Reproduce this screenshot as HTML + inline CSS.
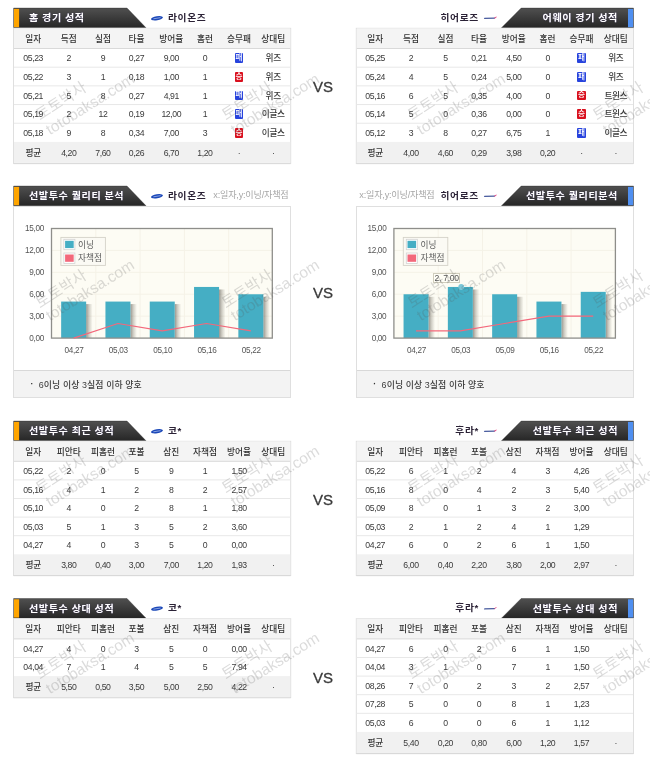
<!DOCTYPE html>
<html lang="ko"><head><meta charset="utf-8"><title>경기 분석</title>
<style>
html,body{margin:0;padding:0;background:#fff;}
body{width:650px;height:779px;position:relative;overflow:hidden;font-family:"Liberation Sans","Noto Sans CJK KR","Noto Sans CJK SC","NanumGothic",sans-serif;}
.b{position:absolute;display:block}
span{position:absolute;white-space:nowrap;line-height:1;}
.t{font-size:8.7px;color:#3a3a3a;letter-spacing:-0.4px;font-weight:500}
.th{color:#333;letter-spacing:0}
.ttl{font-weight:bold;font-size:9.5px;color:#fff;text-shadow:0 0 1px rgba(80,60,140,.7);word-spacing:-0.2px;letter-spacing:0.57px}
.team{font-weight:bold;font-size:8.7px;color:#2b2236;letter-spacing:0.6px}
.xy{font-size:9.1px;color:#a6a6a6;letter-spacing:-0.2px}
.ic{font-size:7.6px;color:#fff;font-weight:500}
.note{font-size:8.9px;color:#3c3c3c;letter-spacing:0.1px;font-weight:500}
.lg{font-size:8.7px;color:#5a5a5a}
.ax{font-size:8.2px;color:#555;letter-spacing:-0.3px}
.tip{font-size:8.6px;color:#555;letter-spacing:-0.3px}
.vs{font-size:15px;color:#3a3a3a;font-family:"Liberation Sans",sans-serif;-webkit-text-stroke:0.3px #3a3a3a}
.wm{color:rgba(90,90,90,.215);z-index:5}
.wk{font-size:15.4px;font-weight:400}
.we{font-size:15.5px}
</style></head><body>

<svg class="b" style="left:0px;top:7px" width="325" height="23" viewBox="0 7 325 23"><defs><linearGradient id="gL8" x1="0" y1="0" x2="0" y2="1"><stop offset="0" stop-color="#505050"/><stop offset="1" stop-color="#262626"/></linearGradient></defs><path d="M13.6 8.1 L127 8.1 L146 27.799999999999997 L13.6 27.799999999999997 Z" fill="url(#gL8)" stroke="#2e2e2e" stroke-width="0.4"/><rect x="14" y="8.9" width="5.1" height="18.30" fill="#ffa500"/></svg>
<span class="ttl" style="left:28.90px;top:18.20px;transform:translate(0,-50%) scaleX(1.06);transform-origin:0 50%;">홈 경기 성적</span>
<svg class="b" style="left:148px;top:12px" width="18" height="13" viewBox="148 12 18 13"><g transform="translate(157.00 18.25)"><ellipse cx="0" cy="0" rx="6.0" ry="1.95" transform="rotate(-9)" fill="#1a47b8"/><path d="M-3.6 0.55 L3.6 -0.6" stroke="#b9c8f0" stroke-width="0.7" fill="none"/></g></svg>
<span class="team" style="left:168.30px;top:17.85px;transform:translate(0,-50%) scaleX(1.12);transform-origin:0 50%;">라이온즈</span>
<svg class="b" style="left:12px;top:26px" width="281" height="140" viewBox="12 26 281 140"><rect x="13.50" y="28.30" width="277.20" height="135.10" fill="#fff" stroke="#dfdfdf" stroke-width="1"/><rect x="14.00" y="28.40" width="276.20" height="20.10" fill="#f4f4f4"/><rect x="14.00" y="141.90" width="276.20" height="21.00" fill="#f1f1f1"/><rect x="14.00" y="48.00" width="276.20" height="1" fill="#d9d9d9"/><rect x="14.00" y="66.68" width="276.20" height="1" fill="#e8e8e8"/><rect x="14.00" y="85.36" width="276.20" height="1" fill="#e8e8e8"/><rect x="14.00" y="104.04" width="276.20" height="1" fill="#e8e8e8"/><rect x="14.00" y="122.72" width="276.20" height="1" fill="#e8e8e8"/><rect x="13.50" y="163.40" width="277.20" height="1" fill="#000" fill-opacity="0.05"/></svg>
<span class="t th" style="left:33.20px;top:38.60px;transform:translate(-50%,-50%);">일자</span>
<span class="t th" style="left:68.80px;top:38.60px;transform:translate(-50%,-50%);">득점</span>
<span class="t th" style="left:102.90px;top:38.60px;transform:translate(-50%,-50%);">실점</span>
<span class="t th" style="left:136.50px;top:38.60px;transform:translate(-50%,-50%);">타율</span>
<span class="t th" style="left:171.30px;top:38.60px;transform:translate(-50%,-50%);">방어율</span>
<span class="t th" style="left:204.90px;top:38.60px;transform:translate(-50%,-50%);">홈런</span>
<span class="t th" style="left:239.10px;top:38.60px;transform:translate(-50%,-50%);">승무패</span>
<span class="t th" style="left:273.20px;top:38.60px;transform:translate(-50%,-50%);">상대팀</span>
<span class="t" style="left:33.20px;top:58.24px;transform:translate(-50%,-50%);">05,23</span>
<span class="t" style="left:68.80px;top:58.24px;transform:translate(-50%,-50%);">2</span>
<span class="t" style="left:102.90px;top:58.24px;transform:translate(-50%,-50%);">9</span>
<span class="t" style="left:136.50px;top:58.24px;transform:translate(-50%,-50%);">0,27</span>
<span class="t" style="left:171.30px;top:58.24px;transform:translate(-50%,-50%);">9,00</span>
<span class="t" style="left:204.90px;top:58.24px;transform:translate(-50%,-50%);">0</span>
<div class="b" style="left:234.90px;top:53.24px;width:8.40px;height:9.60px;background:#2743dd;border-radius:1px"></div>
<span class="ic" style="left:239.10px;top:58.04px;transform:translate(-50%,-50%);">패</span>
<span class="t" style="left:273.20px;top:58.24px;transform:translate(-50%,-50%);">위즈</span>
<span class="t" style="left:33.20px;top:76.92px;transform:translate(-50%,-50%);">05,22</span>
<span class="t" style="left:68.80px;top:76.92px;transform:translate(-50%,-50%);">3</span>
<span class="t" style="left:102.90px;top:76.92px;transform:translate(-50%,-50%);">1</span>
<span class="t" style="left:136.50px;top:76.92px;transform:translate(-50%,-50%);">0,18</span>
<span class="t" style="left:171.30px;top:76.92px;transform:translate(-50%,-50%);">1,00</span>
<span class="t" style="left:204.90px;top:76.92px;transform:translate(-50%,-50%);">1</span>
<div class="b" style="left:234.90px;top:71.92px;width:8.40px;height:9.60px;background:#d9101e;border-radius:1px"></div>
<span class="ic" style="left:239.10px;top:76.72px;transform:translate(-50%,-50%);">승</span>
<span class="t" style="left:273.20px;top:76.92px;transform:translate(-50%,-50%);">위즈</span>
<span class="t" style="left:33.20px;top:95.60px;transform:translate(-50%,-50%);">05,21</span>
<span class="t" style="left:68.80px;top:95.60px;transform:translate(-50%,-50%);">5</span>
<span class="t" style="left:102.90px;top:95.60px;transform:translate(-50%,-50%);">8</span>
<span class="t" style="left:136.50px;top:95.60px;transform:translate(-50%,-50%);">0,27</span>
<span class="t" style="left:171.30px;top:95.60px;transform:translate(-50%,-50%);">4,91</span>
<span class="t" style="left:204.90px;top:95.60px;transform:translate(-50%,-50%);">1</span>
<div class="b" style="left:234.90px;top:90.60px;width:8.40px;height:9.60px;background:#2743dd;border-radius:1px"></div>
<span class="ic" style="left:239.10px;top:95.40px;transform:translate(-50%,-50%);">패</span>
<span class="t" style="left:273.20px;top:95.60px;transform:translate(-50%,-50%);">위즈</span>
<span class="t" style="left:33.20px;top:114.28px;transform:translate(-50%,-50%);">05,19</span>
<span class="t" style="left:68.80px;top:114.28px;transform:translate(-50%,-50%);">2</span>
<span class="t" style="left:102.90px;top:114.28px;transform:translate(-50%,-50%);">12</span>
<span class="t" style="left:136.50px;top:114.28px;transform:translate(-50%,-50%);">0,19</span>
<span class="t" style="left:171.30px;top:114.28px;transform:translate(-50%,-50%);">12,00</span>
<span class="t" style="left:204.90px;top:114.28px;transform:translate(-50%,-50%);">1</span>
<div class="b" style="left:234.90px;top:109.28px;width:8.40px;height:9.60px;background:#2743dd;border-radius:1px"></div>
<span class="ic" style="left:239.10px;top:114.08px;transform:translate(-50%,-50%);">패</span>
<span class="t" style="left:273.20px;top:114.28px;transform:translate(-50%,-50%);">이글스</span>
<span class="t" style="left:33.20px;top:132.96px;transform:translate(-50%,-50%);">05,18</span>
<span class="t" style="left:68.80px;top:132.96px;transform:translate(-50%,-50%);">9</span>
<span class="t" style="left:102.90px;top:132.96px;transform:translate(-50%,-50%);">8</span>
<span class="t" style="left:136.50px;top:132.96px;transform:translate(-50%,-50%);">0,34</span>
<span class="t" style="left:171.30px;top:132.96px;transform:translate(-50%,-50%);">7,00</span>
<span class="t" style="left:204.90px;top:132.96px;transform:translate(-50%,-50%);">3</span>
<div class="b" style="left:234.90px;top:127.96px;width:8.40px;height:9.60px;background:#d9101e;border-radius:1px"></div>
<span class="ic" style="left:239.10px;top:132.76px;transform:translate(-50%,-50%);">승</span>
<span class="t" style="left:273.20px;top:132.96px;transform:translate(-50%,-50%);">이글스</span>
<span class="t" style="left:33.20px;top:153.15px;transform:translate(-50%,-50%);">평균</span>
<span class="t" style="left:68.80px;top:153.15px;transform:translate(-50%,-50%);">4,20</span>
<span class="t" style="left:102.90px;top:153.15px;transform:translate(-50%,-50%);">7,60</span>
<span class="t" style="left:136.50px;top:153.15px;transform:translate(-50%,-50%);">0,26</span>
<span class="t" style="left:171.30px;top:153.15px;transform:translate(-50%,-50%);">6,70</span>
<span class="t" style="left:204.90px;top:153.15px;transform:translate(-50%,-50%);">1,20</span>
<span class="t" style="left:239.10px;top:153.15px;transform:translate(-50%,-50%);">·</span>
<span class="t" style="left:273.20px;top:153.15px;transform:translate(-50%,-50%);">·</span>
<svg class="b" style="left:325px;top:7px" width="325" height="23" viewBox="325 7 325 23"><defs><linearGradient id="gR8" x1="0" y1="0" x2="0" y2="1"><stop offset="0" stop-color="#505050"/><stop offset="1" stop-color="#262626"/></linearGradient></defs><path d="M521.2 8.1 L633.5 8.1 L633.5 27.799999999999997 L501.5 27.799999999999997 Z" fill="url(#gR8)" stroke="#2e2e2e" stroke-width="0.4"/><rect x="628" y="8.9" width="5.1" height="18.30" fill="#4f8ff0"/></svg>
<span class="ttl" style="left:618.30px;top:18.20px;transform:translate(-100%,-50%) scaleX(1.06);transform-origin:100% 50%;">어웨이 경기 성적</span>
<svg class="b" style="left:481px;top:12px" width="19" height="13" viewBox="481 12 19 13"><g transform="translate(490.50 18.35)"><path d="M-6.6 0.75 L4.2 0.5 L4.7 -0.75 L-6.1 -0.5 Z" fill="#44589c"/><path d="M4.0 0.6 L6.6 -1.7 L5.4 -1.5 L3.9 -0.6 Z" fill="#e8457f"/></g></svg>
<span class="team" style="left:479.00px;top:17.85px;transform:translate(-100%,-50%) scaleX(1.12);transform-origin:100% 50%;">히어로즈</span>
<svg class="b" style="left:354px;top:26px" width="281" height="140" viewBox="354 26 281 140"><rect x="356.30" y="28.30" width="277.20" height="135.10" fill="#fff" stroke="#dfdfdf" stroke-width="1"/><rect x="356.80" y="28.40" width="276.20" height="20.10" fill="#f4f4f4"/><rect x="356.80" y="141.90" width="276.20" height="21.00" fill="#f1f1f1"/><rect x="356.80" y="48.00" width="276.20" height="1" fill="#d9d9d9"/><rect x="356.80" y="66.68" width="276.20" height="1" fill="#e8e8e8"/><rect x="356.80" y="85.36" width="276.20" height="1" fill="#e8e8e8"/><rect x="356.80" y="104.04" width="276.20" height="1" fill="#e8e8e8"/><rect x="356.80" y="122.72" width="276.20" height="1" fill="#e8e8e8"/><rect x="356.30" y="163.40" width="277.20" height="1" fill="#000" fill-opacity="0.05"/></svg>
<span class="t th" style="left:375.20px;top:38.60px;transform:translate(-50%,-50%);">일자</span>
<span class="t th" style="left:411.00px;top:38.60px;transform:translate(-50%,-50%);">득점</span>
<span class="t th" style="left:445.40px;top:38.60px;transform:translate(-50%,-50%);">실점</span>
<span class="t th" style="left:479.00px;top:38.60px;transform:translate(-50%,-50%);">타율</span>
<span class="t th" style="left:513.80px;top:38.60px;transform:translate(-50%,-50%);">방어율</span>
<span class="t th" style="left:547.60px;top:38.60px;transform:translate(-50%,-50%);">홈런</span>
<span class="t th" style="left:581.50px;top:38.60px;transform:translate(-50%,-50%);">승무패</span>
<span class="t th" style="left:615.80px;top:38.60px;transform:translate(-50%,-50%);">상대팀</span>
<span class="t" style="left:375.20px;top:58.24px;transform:translate(-50%,-50%);">05,25</span>
<span class="t" style="left:411.00px;top:58.24px;transform:translate(-50%,-50%);">2</span>
<span class="t" style="left:445.40px;top:58.24px;transform:translate(-50%,-50%);">5</span>
<span class="t" style="left:479.00px;top:58.24px;transform:translate(-50%,-50%);">0,21</span>
<span class="t" style="left:513.80px;top:58.24px;transform:translate(-50%,-50%);">4,50</span>
<span class="t" style="left:547.60px;top:58.24px;transform:translate(-50%,-50%);">0</span>
<div class="b" style="left:577.30px;top:53.24px;width:8.40px;height:9.60px;background:#2743dd;border-radius:1px"></div>
<span class="ic" style="left:581.50px;top:58.04px;transform:translate(-50%,-50%);">패</span>
<span class="t" style="left:615.80px;top:58.24px;transform:translate(-50%,-50%);">위즈</span>
<span class="t" style="left:375.20px;top:76.92px;transform:translate(-50%,-50%);">05,24</span>
<span class="t" style="left:411.00px;top:76.92px;transform:translate(-50%,-50%);">4</span>
<span class="t" style="left:445.40px;top:76.92px;transform:translate(-50%,-50%);">5</span>
<span class="t" style="left:479.00px;top:76.92px;transform:translate(-50%,-50%);">0,24</span>
<span class="t" style="left:513.80px;top:76.92px;transform:translate(-50%,-50%);">5,00</span>
<span class="t" style="left:547.60px;top:76.92px;transform:translate(-50%,-50%);">0</span>
<div class="b" style="left:577.30px;top:71.92px;width:8.40px;height:9.60px;background:#2743dd;border-radius:1px"></div>
<span class="ic" style="left:581.50px;top:76.72px;transform:translate(-50%,-50%);">패</span>
<span class="t" style="left:615.80px;top:76.92px;transform:translate(-50%,-50%);">위즈</span>
<span class="t" style="left:375.20px;top:95.60px;transform:translate(-50%,-50%);">05,16</span>
<span class="t" style="left:411.00px;top:95.60px;transform:translate(-50%,-50%);">6</span>
<span class="t" style="left:445.40px;top:95.60px;transform:translate(-50%,-50%);">5</span>
<span class="t" style="left:479.00px;top:95.60px;transform:translate(-50%,-50%);">0,35</span>
<span class="t" style="left:513.80px;top:95.60px;transform:translate(-50%,-50%);">4,00</span>
<span class="t" style="left:547.60px;top:95.60px;transform:translate(-50%,-50%);">0</span>
<div class="b" style="left:577.30px;top:90.60px;width:8.40px;height:9.60px;background:#d9101e;border-radius:1px"></div>
<span class="ic" style="left:581.50px;top:95.40px;transform:translate(-50%,-50%);">승</span>
<span class="t" style="left:615.80px;top:95.60px;transform:translate(-50%,-50%);">트윈스</span>
<span class="t" style="left:375.20px;top:114.28px;transform:translate(-50%,-50%);">05,14</span>
<span class="t" style="left:411.00px;top:114.28px;transform:translate(-50%,-50%);">5</span>
<span class="t" style="left:445.40px;top:114.28px;transform:translate(-50%,-50%);">0</span>
<span class="t" style="left:479.00px;top:114.28px;transform:translate(-50%,-50%);">0,36</span>
<span class="t" style="left:513.80px;top:114.28px;transform:translate(-50%,-50%);">0,00</span>
<span class="t" style="left:547.60px;top:114.28px;transform:translate(-50%,-50%);">0</span>
<div class="b" style="left:577.30px;top:109.28px;width:8.40px;height:9.60px;background:#d9101e;border-radius:1px"></div>
<span class="ic" style="left:581.50px;top:114.08px;transform:translate(-50%,-50%);">승</span>
<span class="t" style="left:615.80px;top:114.28px;transform:translate(-50%,-50%);">트윈스</span>
<span class="t" style="left:375.20px;top:132.96px;transform:translate(-50%,-50%);">05,12</span>
<span class="t" style="left:411.00px;top:132.96px;transform:translate(-50%,-50%);">3</span>
<span class="t" style="left:445.40px;top:132.96px;transform:translate(-50%,-50%);">8</span>
<span class="t" style="left:479.00px;top:132.96px;transform:translate(-50%,-50%);">0,27</span>
<span class="t" style="left:513.80px;top:132.96px;transform:translate(-50%,-50%);">6,75</span>
<span class="t" style="left:547.60px;top:132.96px;transform:translate(-50%,-50%);">1</span>
<div class="b" style="left:577.30px;top:127.96px;width:8.40px;height:9.60px;background:#2743dd;border-radius:1px"></div>
<span class="ic" style="left:581.50px;top:132.76px;transform:translate(-50%,-50%);">패</span>
<span class="t" style="left:615.80px;top:132.96px;transform:translate(-50%,-50%);">이글스</span>
<span class="t" style="left:375.20px;top:153.15px;transform:translate(-50%,-50%);">평균</span>
<span class="t" style="left:411.00px;top:153.15px;transform:translate(-50%,-50%);">4,00</span>
<span class="t" style="left:445.40px;top:153.15px;transform:translate(-50%,-50%);">4,60</span>
<span class="t" style="left:479.00px;top:153.15px;transform:translate(-50%,-50%);">0,29</span>
<span class="t" style="left:513.80px;top:153.15px;transform:translate(-50%,-50%);">3,98</span>
<span class="t" style="left:547.60px;top:153.15px;transform:translate(-50%,-50%);">0,20</span>
<span class="t" style="left:581.50px;top:153.15px;transform:translate(-50%,-50%);">·</span>
<span class="t" style="left:615.80px;top:153.15px;transform:translate(-50%,-50%);">·</span>
<svg class="b" style="left:0px;top:185px" width="325" height="23" viewBox="0 185 325 23"><defs><linearGradient id="gL186" x1="0" y1="0" x2="0" y2="1"><stop offset="0" stop-color="#505050"/><stop offset="1" stop-color="#262626"/></linearGradient></defs><path d="M13.6 186.1 L127 186.1 L146 205.79999999999998 L13.6 205.79999999999998 Z" fill="url(#gL186)" stroke="#2e2e2e" stroke-width="0.4"/><rect x="14" y="186.9" width="5.1" height="18.30" fill="#ffa500"/></svg>
<span class="ttl" style="left:28.90px;top:196.20px;transform:translate(0,-50%) scaleX(1.06);transform-origin:0 50%;">선발투수 퀄리티 분석</span>
<svg class="b" style="left:148px;top:190px" width="18" height="13" viewBox="148 190 18 13"><g transform="translate(157.00 196.25)"><ellipse cx="0" cy="0" rx="6.0" ry="1.95" transform="rotate(-9)" fill="#1a47b8"/><path d="M-3.6 0.55 L3.6 -0.6" stroke="#b9c8f0" stroke-width="0.7" fill="none"/></g></svg>
<span class="team" style="left:168.30px;top:195.85px;transform:translate(0,-50%) scaleX(1.12);transform-origin:0 50%;">라이온즈</span>
<span class="xy" style="left:213.30px;top:196.05px;transform:translate(0,-50%);">x:일자,y:이닝/자책점</span>
<div class="b" style="left:13.00px;top:205.80px;width:278.20px;height:192.60px;border:1px solid #dfdfdf;box-sizing:border-box;background:#fff"></div>
<div class="b" style="left:14.00px;top:370.00px;width:276.20px;height:27.40px;background:#f3f3f3;border-top:1px solid #d8d8d8;box-sizing:border-box"></div>
<span class="t" style="left:30.40px;top:384.40px;transform:translate(0,-50%);color:#333;font-weight:bold">·</span>
<span class="note" style="left:38.80px;top:384.70px;transform:translate(0,-50%);">6이닝 이상 3실점 이하 양호</span>
<svg class="b" style="left:14px;top:206px" width="277" height="163" viewBox="14 206 277 163"><defs><linearGradient id="shL" x1="0" y1="0" x2="1" y2="0"><stop offset="0" stop-color="#3c3830" stop-opacity="0.52"/><stop offset="0.45" stop-color="#4a4538" stop-opacity="0.25"/><stop offset="1" stop-color="#5a5548" stop-opacity="0"/></linearGradient></defs><rect x="51.5" y="228.5" width="220.8" height="109.60" fill="#fdfcf4"/><line x1="95.80" y1="228.5" x2="95.80" y2="338.1" stroke="#f5f2e7" stroke-width="1"/><line x1="140.10" y1="228.5" x2="140.10" y2="338.1" stroke="#f5f2e7" stroke-width="1"/><line x1="184.40" y1="228.5" x2="184.40" y2="338.1" stroke="#f5f2e7" stroke-width="1"/><line x1="228.70" y1="228.5" x2="228.70" y2="338.1" stroke="#f5f2e7" stroke-width="1"/><line x1="51.5" y1="250.42" x2="272.3" y2="250.42" stroke="#f5f2e7" stroke-width="1"/><line x1="51.5" y1="272.34" x2="272.3" y2="272.34" stroke="#f5f2e7" stroke-width="1"/><line x1="51.5" y1="294.26" x2="272.3" y2="294.26" stroke="#f5f2e7" stroke-width="1"/><line x1="51.5" y1="316.18" x2="272.3" y2="316.18" stroke="#f5f2e7" stroke-width="1"/><rect x="86.15" y="304.07" width="6.5" height="34.03" fill="url(#shL)"/><rect x="61.15" y="301.57" width="25" height="36.53" fill="#45aec4"/><rect x="130.45" y="304.07" width="6.5" height="34.03" fill="url(#shL)"/><rect x="105.45" y="301.57" width="25" height="36.53" fill="#45aec4"/><rect x="174.75" y="304.07" width="6.5" height="34.03" fill="url(#shL)"/><rect x="149.75" y="301.57" width="25" height="36.53" fill="#45aec4"/><rect x="219.05" y="289.45" width="6.5" height="48.65" fill="url(#shL)"/><rect x="194.05" y="286.95" width="25" height="51.15" fill="#45aec4"/><rect x="263.35" y="296.76" width="6.5" height="41.34" fill="url(#shL)"/><rect x="238.35" y="294.26" width="25" height="43.84" fill="#45aec4"/><rect x="51.5" y="228.5" width="220.8" height="109.60" fill="none" stroke="#8e8e8a" stroke-width="1.3"/><polyline points="73.65,338.10 117.95,323.49 162.25,330.79 206.55,323.49 250.85,330.79" fill="none" stroke="#f3687b" stroke-width="1.2" stroke-linejoin="round"/><rect x="60.90" y="237.4" width="44.5" height="28" fill="#fbfaf4" stroke="#d4d2c8" stroke-width="0.9"/><rect x="63.90" y="239.3" width="11.0" height="10.4" fill="#fff" stroke="#d2d2d2" stroke-width="0.8"/><rect x="65.10" y="240.8" width="8.6" height="7.3" fill="#45aec4"/><rect x="63.90" y="253.0" width="11.0" height="10.4" fill="#fff" stroke="#d2d2d2" stroke-width="0.8"/><rect x="65.10" y="254.5" width="8.6" height="7.3" fill="#f3687b"/></svg>
<span class="lg" style="left:78.10px;top:244.70px;transform:translate(0,-50%);">이닝</span>
<span class="lg" style="left:78.10px;top:258.30px;transform:translate(0,-50%);">자책점</span>
<span class="ax" style="left:44.00px;top:229.30px;transform:translate(-100%,-50%);">15,00</span>
<span class="ax" style="left:44.00px;top:251.22px;transform:translate(-100%,-50%);">12,00</span>
<span class="ax" style="left:44.00px;top:273.14px;transform:translate(-100%,-50%);">9,00</span>
<span class="ax" style="left:44.00px;top:295.06px;transform:translate(-100%,-50%);">6,00</span>
<span class="ax" style="left:44.00px;top:316.98px;transform:translate(-100%,-50%);">3,00</span>
<span class="ax" style="left:44.00px;top:338.90px;transform:translate(-100%,-50%);">0,00</span>
<span class="ax" style="left:74.05px;top:350.80px;transform:translate(-50%,-50%);">04,27</span>
<span class="ax" style="left:118.35px;top:350.80px;transform:translate(-50%,-50%);">05,03</span>
<span class="ax" style="left:162.65px;top:350.80px;transform:translate(-50%,-50%);">05,10</span>
<span class="ax" style="left:206.95px;top:350.80px;transform:translate(-50%,-50%);">05,16</span>
<span class="ax" style="left:251.25px;top:350.80px;transform:translate(-50%,-50%);">05,22</span>
<svg class="b" style="left:325px;top:185px" width="325" height="23" viewBox="325 185 325 23"><defs><linearGradient id="gR186" x1="0" y1="0" x2="0" y2="1"><stop offset="0" stop-color="#505050"/><stop offset="1" stop-color="#262626"/></linearGradient></defs><path d="M521.2 186.1 L633.5 186.1 L633.5 205.79999999999998 L501.5 205.79999999999998 Z" fill="url(#gR186)" stroke="#2e2e2e" stroke-width="0.4"/><rect x="628" y="186.9" width="5.1" height="18.30" fill="#4f8ff0"/></svg>
<span class="ttl" style="left:618.30px;top:196.20px;transform:translate(-100%,-50%) scaleX(1.06);transform-origin:100% 50%;">선발투수 퀄리티분석</span>
<svg class="b" style="left:481px;top:190px" width="19" height="13" viewBox="481 190 19 13"><g transform="translate(490.50 196.35)"><path d="M-6.6 0.75 L4.2 0.5 L4.7 -0.75 L-6.1 -0.5 Z" fill="#44589c"/><path d="M4.0 0.6 L6.6 -1.7 L5.4 -1.5 L3.9 -0.6 Z" fill="#e8457f"/></g></svg>
<span class="team" style="left:479.00px;top:195.85px;transform:translate(-100%,-50%) scaleX(1.12);transform-origin:100% 50%;">히어로즈</span>
<span class="xy" style="left:434.50px;top:196.05px;transform:translate(-100%,-50%);">x:일자,y:이닝/자책점</span>
<div class="b" style="left:355.80px;top:205.80px;width:278.20px;height:192.60px;border:1px solid #dfdfdf;box-sizing:border-box;background:#fff"></div>
<div class="b" style="left:356.80px;top:370.00px;width:276.20px;height:27.40px;background:#f3f3f3;border-top:1px solid #d8d8d8;box-sizing:border-box"></div>
<span class="t" style="left:373.20px;top:384.40px;transform:translate(0,-50%);color:#333;font-weight:bold">·</span>
<span class="note" style="left:381.60px;top:384.70px;transform:translate(0,-50%);">6이닝 이상 3실점 이하 양호</span>
<svg class="b" style="left:356px;top:206px" width="277" height="163" viewBox="356 206 277 163"><defs><linearGradient id="shR" x1="0" y1="0" x2="1" y2="0"><stop offset="0" stop-color="#3c3830" stop-opacity="0.52"/><stop offset="0.45" stop-color="#4a4538" stop-opacity="0.25"/><stop offset="1" stop-color="#5a5548" stop-opacity="0"/></linearGradient></defs><rect x="393.9" y="228.5" width="221.5" height="109.60" fill="#fdfcf4"/><line x1="438.20" y1="228.5" x2="438.20" y2="338.1" stroke="#f5f2e7" stroke-width="1"/><line x1="482.50" y1="228.5" x2="482.50" y2="338.1" stroke="#f5f2e7" stroke-width="1"/><line x1="526.80" y1="228.5" x2="526.80" y2="338.1" stroke="#f5f2e7" stroke-width="1"/><line x1="571.10" y1="228.5" x2="571.10" y2="338.1" stroke="#f5f2e7" stroke-width="1"/><line x1="393.9" y1="250.42" x2="615.4" y2="250.42" stroke="#f5f2e7" stroke-width="1"/><line x1="393.9" y1="272.34" x2="615.4" y2="272.34" stroke="#f5f2e7" stroke-width="1"/><line x1="393.9" y1="294.26" x2="615.4" y2="294.26" stroke="#f5f2e7" stroke-width="1"/><line x1="393.9" y1="316.18" x2="615.4" y2="316.18" stroke="#f5f2e7" stroke-width="1"/><rect x="428.55" y="296.76" width="6.5" height="41.34" fill="url(#shR)"/><rect x="403.55" y="294.26" width="25" height="43.84" fill="#45aec4"/><rect x="472.85" y="289.45" width="6.5" height="48.65" fill="url(#shR)"/><rect x="447.85" y="286.95" width="25" height="51.15" fill="#45aec4"/><rect x="517.15" y="296.76" width="6.5" height="41.34" fill="url(#shR)"/><rect x="492.15" y="294.26" width="25" height="43.84" fill="#45aec4"/><rect x="561.45" y="304.07" width="6.5" height="34.03" fill="url(#shR)"/><rect x="536.45" y="301.57" width="25" height="36.53" fill="#45aec4"/><rect x="605.75" y="294.35" width="6.5" height="43.75" fill="url(#shR)"/><rect x="580.75" y="291.85" width="25" height="46.25" fill="#45aec4"/><rect x="393.9" y="228.5" width="221.5" height="109.60" fill="none" stroke="#8e8e8a" stroke-width="1.3"/><polyline points="416.05,330.79 460.35,330.79 504.65,323.49 548.95,316.18 593.25,316.18" fill="none" stroke="#f3687b" stroke-width="1.2" stroke-linejoin="round"/><rect x="403.30" y="237.4" width="44.5" height="28" fill="#fbfaf4" stroke="#d4d2c8" stroke-width="0.9"/><rect x="406.30" y="239.3" width="11.0" height="10.4" fill="#fff" stroke="#d2d2d2" stroke-width="0.8"/><rect x="407.50" y="240.8" width="8.6" height="7.3" fill="#45aec4"/><rect x="406.30" y="253.0" width="11.0" height="10.4" fill="#fff" stroke="#d2d2d2" stroke-width="0.8"/><rect x="407.50" y="254.5" width="8.6" height="7.3" fill="#f3687b"/><circle cx="461.2" cy="287.0" r="2.9" fill="#7cc7d8"/></svg>
<span class="lg" style="left:420.50px;top:244.70px;transform:translate(0,-50%);">이닝</span>
<span class="lg" style="left:420.50px;top:258.30px;transform:translate(0,-50%);">자책점</span>
<span class="ax" style="left:386.40px;top:229.30px;transform:translate(-100%,-50%);">15,00</span>
<span class="ax" style="left:386.40px;top:251.22px;transform:translate(-100%,-50%);">12,00</span>
<span class="ax" style="left:386.40px;top:273.14px;transform:translate(-100%,-50%);">9,00</span>
<span class="ax" style="left:386.40px;top:295.06px;transform:translate(-100%,-50%);">6,00</span>
<span class="ax" style="left:386.40px;top:316.98px;transform:translate(-100%,-50%);">3,00</span>
<span class="ax" style="left:386.40px;top:338.90px;transform:translate(-100%,-50%);">0,00</span>
<span class="ax" style="left:416.45px;top:350.80px;transform:translate(-50%,-50%);">04,27</span>
<span class="ax" style="left:460.75px;top:350.80px;transform:translate(-50%,-50%);">05,03</span>
<span class="ax" style="left:505.05px;top:350.80px;transform:translate(-50%,-50%);">05,09</span>
<span class="ax" style="left:549.35px;top:350.80px;transform:translate(-50%,-50%);">05,16</span>
<span class="ax" style="left:593.65px;top:350.80px;transform:translate(-50%,-50%);">05,22</span>
<div class="b" style="left:433.00px;top:272.70px;width:27.00px;height:10.00px;background:#fffef6;border:1px solid #d0cdbd;box-sizing:border-box"></div>
<span class="tip" style="left:446.60px;top:278.00px;transform:translate(-50%,-50%);">2, 7,00</span>
<svg class="b" style="left:0px;top:420px" width="325" height="23" viewBox="0 420 325 23"><defs><linearGradient id="gL421" x1="0" y1="0" x2="0" y2="1"><stop offset="0" stop-color="#505050"/><stop offset="1" stop-color="#262626"/></linearGradient></defs><path d="M13.6 421.1 L127 421.1 L146 440.8 L13.6 440.8 Z" fill="url(#gL421)" stroke="#2e2e2e" stroke-width="0.4"/><rect x="14" y="421.90000000000003" width="5.1" height="18.30" fill="#ffa500"/></svg>
<span class="ttl" style="left:28.90px;top:431.20px;transform:translate(0,-50%) scaleX(1.06);transform-origin:0 50%;">선발투수 최근 성적</span>
<svg class="b" style="left:148px;top:425px" width="18" height="13" viewBox="148 425 18 13"><g transform="translate(157.00 431.25)"><ellipse cx="0" cy="0" rx="6.0" ry="1.95" transform="rotate(-9)" fill="#1a47b8"/><path d="M-3.6 0.55 L3.6 -0.6" stroke="#b9c8f0" stroke-width="0.7" fill="none"/></g></svg>
<span class="team" style="left:168.30px;top:430.85px;transform:translate(0,-50%) scaleX(1.12);transform-origin:0 50%;">코*</span>
<svg class="b" style="left:12px;top:439px" width="281" height="139" viewBox="12 439 281 139"><rect x="13.50" y="441.30" width="277.20" height="134.20" fill="#fff" stroke="#dfdfdf" stroke-width="1"/><rect x="14.00" y="441.40" width="276.20" height="19.90" fill="#f4f4f4"/><rect x="14.00" y="554.30" width="276.20" height="20.70" fill="#f1f1f1"/><rect x="14.00" y="460.80" width="276.20" height="1" fill="#d9d9d9"/><rect x="14.00" y="479.40" width="276.20" height="1" fill="#e8e8e8"/><rect x="14.00" y="498.00" width="276.20" height="1" fill="#e8e8e8"/><rect x="14.00" y="516.60" width="276.20" height="1" fill="#e8e8e8"/><rect x="14.00" y="535.20" width="276.20" height="1" fill="#e8e8e8"/><rect x="13.50" y="575.50" width="277.20" height="1" fill="#000" fill-opacity="0.05"/></svg>
<span class="t th" style="left:33.20px;top:451.50px;transform:translate(-50%,-50%);">일자</span>
<span class="t th" style="left:68.80px;top:451.50px;transform:translate(-50%,-50%);">피안타</span>
<span class="t th" style="left:102.90px;top:451.50px;transform:translate(-50%,-50%);">피홈런</span>
<span class="t th" style="left:136.50px;top:451.50px;transform:translate(-50%,-50%);">포볼</span>
<span class="t th" style="left:171.30px;top:451.50px;transform:translate(-50%,-50%);">삼진</span>
<span class="t th" style="left:204.90px;top:451.50px;transform:translate(-50%,-50%);">자책점</span>
<span class="t th" style="left:239.10px;top:451.50px;transform:translate(-50%,-50%);">방어율</span>
<span class="t th" style="left:273.20px;top:451.50px;transform:translate(-50%,-50%);">상대팀</span>
<span class="t" style="left:33.20px;top:471.00px;transform:translate(-50%,-50%);">05,22</span>
<span class="t" style="left:68.80px;top:471.00px;transform:translate(-50%,-50%);">2</span>
<span class="t" style="left:102.90px;top:471.00px;transform:translate(-50%,-50%);">0</span>
<span class="t" style="left:136.50px;top:471.00px;transform:translate(-50%,-50%);">5</span>
<span class="t" style="left:171.30px;top:471.00px;transform:translate(-50%,-50%);">9</span>
<span class="t" style="left:204.90px;top:471.00px;transform:translate(-50%,-50%);">1</span>
<span class="t" style="left:239.10px;top:471.00px;transform:translate(-50%,-50%);">1,50</span>
<span class="t" style="left:33.20px;top:489.60px;transform:translate(-50%,-50%);">05,16</span>
<span class="t" style="left:68.80px;top:489.60px;transform:translate(-50%,-50%);">4</span>
<span class="t" style="left:102.90px;top:489.60px;transform:translate(-50%,-50%);">1</span>
<span class="t" style="left:136.50px;top:489.60px;transform:translate(-50%,-50%);">2</span>
<span class="t" style="left:171.30px;top:489.60px;transform:translate(-50%,-50%);">8</span>
<span class="t" style="left:204.90px;top:489.60px;transform:translate(-50%,-50%);">2</span>
<span class="t" style="left:239.10px;top:489.60px;transform:translate(-50%,-50%);">2,57</span>
<span class="t" style="left:33.20px;top:508.20px;transform:translate(-50%,-50%);">05,10</span>
<span class="t" style="left:68.80px;top:508.20px;transform:translate(-50%,-50%);">4</span>
<span class="t" style="left:102.90px;top:508.20px;transform:translate(-50%,-50%);">0</span>
<span class="t" style="left:136.50px;top:508.20px;transform:translate(-50%,-50%);">2</span>
<span class="t" style="left:171.30px;top:508.20px;transform:translate(-50%,-50%);">8</span>
<span class="t" style="left:204.90px;top:508.20px;transform:translate(-50%,-50%);">1</span>
<span class="t" style="left:239.10px;top:508.20px;transform:translate(-50%,-50%);">1,80</span>
<span class="t" style="left:33.20px;top:526.80px;transform:translate(-50%,-50%);">05,03</span>
<span class="t" style="left:68.80px;top:526.80px;transform:translate(-50%,-50%);">5</span>
<span class="t" style="left:102.90px;top:526.80px;transform:translate(-50%,-50%);">1</span>
<span class="t" style="left:136.50px;top:526.80px;transform:translate(-50%,-50%);">3</span>
<span class="t" style="left:171.30px;top:526.80px;transform:translate(-50%,-50%);">5</span>
<span class="t" style="left:204.90px;top:526.80px;transform:translate(-50%,-50%);">2</span>
<span class="t" style="left:239.10px;top:526.80px;transform:translate(-50%,-50%);">3,60</span>
<span class="t" style="left:33.20px;top:545.40px;transform:translate(-50%,-50%);">04,27</span>
<span class="t" style="left:68.80px;top:545.40px;transform:translate(-50%,-50%);">4</span>
<span class="t" style="left:102.90px;top:545.40px;transform:translate(-50%,-50%);">0</span>
<span class="t" style="left:136.50px;top:545.40px;transform:translate(-50%,-50%);">3</span>
<span class="t" style="left:171.30px;top:545.40px;transform:translate(-50%,-50%);">5</span>
<span class="t" style="left:204.90px;top:545.40px;transform:translate(-50%,-50%);">0</span>
<span class="t" style="left:239.10px;top:545.40px;transform:translate(-50%,-50%);">0,00</span>
<span class="t" style="left:33.20px;top:565.40px;transform:translate(-50%,-50%);">평균</span>
<span class="t" style="left:68.80px;top:565.40px;transform:translate(-50%,-50%);">3,80</span>
<span class="t" style="left:102.90px;top:565.40px;transform:translate(-50%,-50%);">0,40</span>
<span class="t" style="left:136.50px;top:565.40px;transform:translate(-50%,-50%);">3,00</span>
<span class="t" style="left:171.30px;top:565.40px;transform:translate(-50%,-50%);">7,00</span>
<span class="t" style="left:204.90px;top:565.40px;transform:translate(-50%,-50%);">1,20</span>
<span class="t" style="left:239.10px;top:565.40px;transform:translate(-50%,-50%);">1,93</span>
<span class="t" style="left:273.20px;top:565.40px;transform:translate(-50%,-50%);">·</span>
<svg class="b" style="left:325px;top:420px" width="325" height="23" viewBox="325 420 325 23"><defs><linearGradient id="gR421" x1="0" y1="0" x2="0" y2="1"><stop offset="0" stop-color="#505050"/><stop offset="1" stop-color="#262626"/></linearGradient></defs><path d="M521.2 421.1 L633.5 421.1 L633.5 440.8 L501.5 440.8 Z" fill="url(#gR421)" stroke="#2e2e2e" stroke-width="0.4"/><rect x="628" y="421.90000000000003" width="5.1" height="18.30" fill="#4f8ff0"/></svg>
<span class="ttl" style="left:618.30px;top:431.20px;transform:translate(-100%,-50%) scaleX(1.06);transform-origin:100% 50%;">선발투수 최근 성적</span>
<svg class="b" style="left:481px;top:425px" width="19" height="13" viewBox="481 425 19 13"><g transform="translate(490.50 431.35)"><path d="M-6.6 0.75 L4.2 0.5 L4.7 -0.75 L-6.1 -0.5 Z" fill="#44589c"/><path d="M4.0 0.6 L6.6 -1.7 L5.4 -1.5 L3.9 -0.6 Z" fill="#e8457f"/></g></svg>
<span class="team" style="left:479.00px;top:430.85px;transform:translate(-100%,-50%) scaleX(1.12);transform-origin:100% 50%;">후라*</span>
<svg class="b" style="left:354px;top:439px" width="281" height="139" viewBox="354 439 281 139"><rect x="356.30" y="441.30" width="277.20" height="134.20" fill="#fff" stroke="#dfdfdf" stroke-width="1"/><rect x="356.80" y="441.40" width="276.20" height="19.90" fill="#f4f4f4"/><rect x="356.80" y="554.30" width="276.20" height="20.70" fill="#f1f1f1"/><rect x="356.80" y="460.80" width="276.20" height="1" fill="#d9d9d9"/><rect x="356.80" y="479.40" width="276.20" height="1" fill="#e8e8e8"/><rect x="356.80" y="498.00" width="276.20" height="1" fill="#e8e8e8"/><rect x="356.80" y="516.60" width="276.20" height="1" fill="#e8e8e8"/><rect x="356.80" y="535.20" width="276.20" height="1" fill="#e8e8e8"/><rect x="356.30" y="575.50" width="277.20" height="1" fill="#000" fill-opacity="0.05"/></svg>
<span class="t th" style="left:375.20px;top:451.50px;transform:translate(-50%,-50%);">일자</span>
<span class="t th" style="left:411.00px;top:451.50px;transform:translate(-50%,-50%);">피안타</span>
<span class="t th" style="left:445.40px;top:451.50px;transform:translate(-50%,-50%);">피홈런</span>
<span class="t th" style="left:479.00px;top:451.50px;transform:translate(-50%,-50%);">포볼</span>
<span class="t th" style="left:513.80px;top:451.50px;transform:translate(-50%,-50%);">삼진</span>
<span class="t th" style="left:547.60px;top:451.50px;transform:translate(-50%,-50%);">자책점</span>
<span class="t th" style="left:581.50px;top:451.50px;transform:translate(-50%,-50%);">방어율</span>
<span class="t th" style="left:615.80px;top:451.50px;transform:translate(-50%,-50%);">상대팀</span>
<span class="t" style="left:375.20px;top:471.00px;transform:translate(-50%,-50%);">05,22</span>
<span class="t" style="left:411.00px;top:471.00px;transform:translate(-50%,-50%);">6</span>
<span class="t" style="left:445.40px;top:471.00px;transform:translate(-50%,-50%);">1</span>
<span class="t" style="left:479.00px;top:471.00px;transform:translate(-50%,-50%);">2</span>
<span class="t" style="left:513.80px;top:471.00px;transform:translate(-50%,-50%);">4</span>
<span class="t" style="left:547.60px;top:471.00px;transform:translate(-50%,-50%);">3</span>
<span class="t" style="left:581.50px;top:471.00px;transform:translate(-50%,-50%);">4,26</span>
<span class="t" style="left:375.20px;top:489.60px;transform:translate(-50%,-50%);">05,16</span>
<span class="t" style="left:411.00px;top:489.60px;transform:translate(-50%,-50%);">8</span>
<span class="t" style="left:445.40px;top:489.60px;transform:translate(-50%,-50%);">0</span>
<span class="t" style="left:479.00px;top:489.60px;transform:translate(-50%,-50%);">4</span>
<span class="t" style="left:513.80px;top:489.60px;transform:translate(-50%,-50%);">2</span>
<span class="t" style="left:547.60px;top:489.60px;transform:translate(-50%,-50%);">3</span>
<span class="t" style="left:581.50px;top:489.60px;transform:translate(-50%,-50%);">5,40</span>
<span class="t" style="left:375.20px;top:508.20px;transform:translate(-50%,-50%);">05,09</span>
<span class="t" style="left:411.00px;top:508.20px;transform:translate(-50%,-50%);">8</span>
<span class="t" style="left:445.40px;top:508.20px;transform:translate(-50%,-50%);">0</span>
<span class="t" style="left:479.00px;top:508.20px;transform:translate(-50%,-50%);">1</span>
<span class="t" style="left:513.80px;top:508.20px;transform:translate(-50%,-50%);">3</span>
<span class="t" style="left:547.60px;top:508.20px;transform:translate(-50%,-50%);">2</span>
<span class="t" style="left:581.50px;top:508.20px;transform:translate(-50%,-50%);">3,00</span>
<span class="t" style="left:375.20px;top:526.80px;transform:translate(-50%,-50%);">05,03</span>
<span class="t" style="left:411.00px;top:526.80px;transform:translate(-50%,-50%);">2</span>
<span class="t" style="left:445.40px;top:526.80px;transform:translate(-50%,-50%);">1</span>
<span class="t" style="left:479.00px;top:526.80px;transform:translate(-50%,-50%);">2</span>
<span class="t" style="left:513.80px;top:526.80px;transform:translate(-50%,-50%);">4</span>
<span class="t" style="left:547.60px;top:526.80px;transform:translate(-50%,-50%);">1</span>
<span class="t" style="left:581.50px;top:526.80px;transform:translate(-50%,-50%);">1,29</span>
<span class="t" style="left:375.20px;top:545.40px;transform:translate(-50%,-50%);">04,27</span>
<span class="t" style="left:411.00px;top:545.40px;transform:translate(-50%,-50%);">6</span>
<span class="t" style="left:445.40px;top:545.40px;transform:translate(-50%,-50%);">0</span>
<span class="t" style="left:479.00px;top:545.40px;transform:translate(-50%,-50%);">2</span>
<span class="t" style="left:513.80px;top:545.40px;transform:translate(-50%,-50%);">6</span>
<span class="t" style="left:547.60px;top:545.40px;transform:translate(-50%,-50%);">1</span>
<span class="t" style="left:581.50px;top:545.40px;transform:translate(-50%,-50%);">1,50</span>
<span class="t" style="left:375.20px;top:565.40px;transform:translate(-50%,-50%);">평균</span>
<span class="t" style="left:411.00px;top:565.40px;transform:translate(-50%,-50%);">6,00</span>
<span class="t" style="left:445.40px;top:565.40px;transform:translate(-50%,-50%);">0,40</span>
<span class="t" style="left:479.00px;top:565.40px;transform:translate(-50%,-50%);">2,20</span>
<span class="t" style="left:513.80px;top:565.40px;transform:translate(-50%,-50%);">3,80</span>
<span class="t" style="left:547.60px;top:565.40px;transform:translate(-50%,-50%);">2,00</span>
<span class="t" style="left:581.50px;top:565.40px;transform:translate(-50%,-50%);">2,97</span>
<span class="t" style="left:615.80px;top:565.40px;transform:translate(-50%,-50%);">·</span>
<svg class="b" style="left:0px;top:597px" width="325" height="23" viewBox="0 597 325 23"><defs><linearGradient id="gL598" x1="0" y1="0" x2="0" y2="1"><stop offset="0" stop-color="#505050"/><stop offset="1" stop-color="#262626"/></linearGradient></defs><path d="M13.6 598.5 L127 598.5 L146 618.2 L13.6 618.2 Z" fill="url(#gL598)" stroke="#2e2e2e" stroke-width="0.4"/><rect x="14" y="599.3" width="5.1" height="18.30" fill="#ffa500"/></svg>
<span class="ttl" style="left:28.90px;top:608.60px;transform:translate(0,-50%) scaleX(1.06);transform-origin:0 50%;">선발투수 상대 성적</span>
<svg class="b" style="left:148px;top:602px" width="18" height="13" viewBox="148 602 18 13"><g transform="translate(157.00 608.65)"><ellipse cx="0" cy="0" rx="6.0" ry="1.95" transform="rotate(-9)" fill="#1a47b8"/><path d="M-3.6 0.55 L3.6 -0.6" stroke="#b9c8f0" stroke-width="0.7" fill="none"/></g></svg>
<span class="team" style="left:168.30px;top:608.25px;transform:translate(0,-50%) scaleX(1.12);transform-origin:0 50%;">코*</span>
<svg class="b" style="left:12px;top:617px" width="281" height="83" viewBox="12 617 281 83"><rect x="13.50" y="618.70" width="277.20" height="78.90" fill="#fff" stroke="#dfdfdf" stroke-width="1"/><rect x="14.00" y="618.80" width="276.20" height="20.10" fill="#f4f4f4"/><rect x="14.00" y="676.10" width="276.20" height="21.00" fill="#f1f1f1"/><rect x="14.00" y="638.40" width="276.20" height="1" fill="#d9d9d9"/><rect x="14.00" y="657.00" width="276.20" height="1" fill="#e8e8e8"/><rect x="13.50" y="697.60" width="277.20" height="1" fill="#000" fill-opacity="0.05"/></svg>
<span class="t th" style="left:33.20px;top:629.00px;transform:translate(-50%,-50%);">일자</span>
<span class="t th" style="left:68.80px;top:629.00px;transform:translate(-50%,-50%);">피안타</span>
<span class="t th" style="left:102.90px;top:629.00px;transform:translate(-50%,-50%);">피홈런</span>
<span class="t th" style="left:136.50px;top:629.00px;transform:translate(-50%,-50%);">포볼</span>
<span class="t th" style="left:171.30px;top:629.00px;transform:translate(-50%,-50%);">삼진</span>
<span class="t th" style="left:204.90px;top:629.00px;transform:translate(-50%,-50%);">자책점</span>
<span class="t th" style="left:239.10px;top:629.00px;transform:translate(-50%,-50%);">방어율</span>
<span class="t th" style="left:273.20px;top:629.00px;transform:translate(-50%,-50%);">상대팀</span>
<span class="t" style="left:33.20px;top:648.60px;transform:translate(-50%,-50%);">04,27</span>
<span class="t" style="left:68.80px;top:648.60px;transform:translate(-50%,-50%);">4</span>
<span class="t" style="left:102.90px;top:648.60px;transform:translate(-50%,-50%);">0</span>
<span class="t" style="left:136.50px;top:648.60px;transform:translate(-50%,-50%);">3</span>
<span class="t" style="left:171.30px;top:648.60px;transform:translate(-50%,-50%);">5</span>
<span class="t" style="left:204.90px;top:648.60px;transform:translate(-50%,-50%);">0</span>
<span class="t" style="left:239.10px;top:648.60px;transform:translate(-50%,-50%);">0,00</span>
<span class="t" style="left:33.20px;top:667.20px;transform:translate(-50%,-50%);">04,04</span>
<span class="t" style="left:68.80px;top:667.20px;transform:translate(-50%,-50%);">7</span>
<span class="t" style="left:102.90px;top:667.20px;transform:translate(-50%,-50%);">1</span>
<span class="t" style="left:136.50px;top:667.20px;transform:translate(-50%,-50%);">4</span>
<span class="t" style="left:171.30px;top:667.20px;transform:translate(-50%,-50%);">5</span>
<span class="t" style="left:204.90px;top:667.20px;transform:translate(-50%,-50%);">5</span>
<span class="t" style="left:239.10px;top:667.20px;transform:translate(-50%,-50%);">7,94</span>
<span class="t" style="left:33.20px;top:687.35px;transform:translate(-50%,-50%);">평균</span>
<span class="t" style="left:68.80px;top:687.35px;transform:translate(-50%,-50%);">5,50</span>
<span class="t" style="left:102.90px;top:687.35px;transform:translate(-50%,-50%);">0,50</span>
<span class="t" style="left:136.50px;top:687.35px;transform:translate(-50%,-50%);">3,50</span>
<span class="t" style="left:171.30px;top:687.35px;transform:translate(-50%,-50%);">5,00</span>
<span class="t" style="left:204.90px;top:687.35px;transform:translate(-50%,-50%);">2,50</span>
<span class="t" style="left:239.10px;top:687.35px;transform:translate(-50%,-50%);">4,22</span>
<span class="t" style="left:273.20px;top:687.35px;transform:translate(-50%,-50%);">·</span>
<svg class="b" style="left:325px;top:597px" width="325" height="23" viewBox="325 597 325 23"><defs><linearGradient id="gR598" x1="0" y1="0" x2="0" y2="1"><stop offset="0" stop-color="#505050"/><stop offset="1" stop-color="#262626"/></linearGradient></defs><path d="M521.2 598.5 L633.5 598.5 L633.5 618.2 L501.5 618.2 Z" fill="url(#gR598)" stroke="#2e2e2e" stroke-width="0.4"/><rect x="628" y="599.3" width="5.1" height="18.30" fill="#4f8ff0"/></svg>
<span class="ttl" style="left:618.30px;top:608.60px;transform:translate(-100%,-50%) scaleX(1.06);transform-origin:100% 50%;">선발투수 상대 성적</span>
<svg class="b" style="left:481px;top:602px" width="19" height="13" viewBox="481 602 19 13"><g transform="translate(490.50 608.75)"><path d="M-6.6 0.75 L4.2 0.5 L4.7 -0.75 L-6.1 -0.5 Z" fill="#44589c"/><path d="M4.0 0.6 L6.6 -1.7 L5.4 -1.5 L3.9 -0.6 Z" fill="#e8457f"/></g></svg>
<span class="team" style="left:479.00px;top:608.25px;transform:translate(-100%,-50%) scaleX(1.12);transform-origin:100% 50%;">후라*</span>
<svg class="b" style="left:354px;top:617px" width="281" height="139" viewBox="354 617 281 139"><rect x="356.30" y="618.70" width="277.20" height="134.80" fill="#fff" stroke="#dfdfdf" stroke-width="1"/><rect x="356.80" y="618.80" width="276.20" height="20.10" fill="#f4f4f4"/><rect x="356.80" y="731.90" width="276.20" height="21.10" fill="#f1f1f1"/><rect x="356.80" y="638.40" width="276.20" height="1" fill="#d9d9d9"/><rect x="356.80" y="657.00" width="276.20" height="1" fill="#e8e8e8"/><rect x="356.80" y="675.60" width="276.20" height="1" fill="#e8e8e8"/><rect x="356.80" y="694.20" width="276.20" height="1" fill="#e8e8e8"/><rect x="356.80" y="712.80" width="276.20" height="1" fill="#e8e8e8"/><rect x="356.30" y="753.50" width="277.20" height="1" fill="#000" fill-opacity="0.05"/></svg>
<span class="t th" style="left:375.20px;top:629.00px;transform:translate(-50%,-50%);">일자</span>
<span class="t th" style="left:411.00px;top:629.00px;transform:translate(-50%,-50%);">피안타</span>
<span class="t th" style="left:445.40px;top:629.00px;transform:translate(-50%,-50%);">피홈런</span>
<span class="t th" style="left:479.00px;top:629.00px;transform:translate(-50%,-50%);">포볼</span>
<span class="t th" style="left:513.80px;top:629.00px;transform:translate(-50%,-50%);">삼진</span>
<span class="t th" style="left:547.60px;top:629.00px;transform:translate(-50%,-50%);">자책점</span>
<span class="t th" style="left:581.50px;top:629.00px;transform:translate(-50%,-50%);">방어율</span>
<span class="t th" style="left:615.80px;top:629.00px;transform:translate(-50%,-50%);">상대팀</span>
<span class="t" style="left:375.20px;top:648.60px;transform:translate(-50%,-50%);">04,27</span>
<span class="t" style="left:411.00px;top:648.60px;transform:translate(-50%,-50%);">6</span>
<span class="t" style="left:445.40px;top:648.60px;transform:translate(-50%,-50%);">0</span>
<span class="t" style="left:479.00px;top:648.60px;transform:translate(-50%,-50%);">2</span>
<span class="t" style="left:513.80px;top:648.60px;transform:translate(-50%,-50%);">6</span>
<span class="t" style="left:547.60px;top:648.60px;transform:translate(-50%,-50%);">1</span>
<span class="t" style="left:581.50px;top:648.60px;transform:translate(-50%,-50%);">1,50</span>
<span class="t" style="left:375.20px;top:667.20px;transform:translate(-50%,-50%);">04,04</span>
<span class="t" style="left:411.00px;top:667.20px;transform:translate(-50%,-50%);">3</span>
<span class="t" style="left:445.40px;top:667.20px;transform:translate(-50%,-50%);">1</span>
<span class="t" style="left:479.00px;top:667.20px;transform:translate(-50%,-50%);">0</span>
<span class="t" style="left:513.80px;top:667.20px;transform:translate(-50%,-50%);">7</span>
<span class="t" style="left:547.60px;top:667.20px;transform:translate(-50%,-50%);">1</span>
<span class="t" style="left:581.50px;top:667.20px;transform:translate(-50%,-50%);">1,50</span>
<span class="t" style="left:375.20px;top:685.80px;transform:translate(-50%,-50%);">08,26</span>
<span class="t" style="left:411.00px;top:685.80px;transform:translate(-50%,-50%);">7</span>
<span class="t" style="left:445.40px;top:685.80px;transform:translate(-50%,-50%);">0</span>
<span class="t" style="left:479.00px;top:685.80px;transform:translate(-50%,-50%);">2</span>
<span class="t" style="left:513.80px;top:685.80px;transform:translate(-50%,-50%);">3</span>
<span class="t" style="left:547.60px;top:685.80px;transform:translate(-50%,-50%);">2</span>
<span class="t" style="left:581.50px;top:685.80px;transform:translate(-50%,-50%);">2,57</span>
<span class="t" style="left:375.20px;top:704.40px;transform:translate(-50%,-50%);">07,28</span>
<span class="t" style="left:411.00px;top:704.40px;transform:translate(-50%,-50%);">5</span>
<span class="t" style="left:445.40px;top:704.40px;transform:translate(-50%,-50%);">0</span>
<span class="t" style="left:479.00px;top:704.40px;transform:translate(-50%,-50%);">0</span>
<span class="t" style="left:513.80px;top:704.40px;transform:translate(-50%,-50%);">8</span>
<span class="t" style="left:547.60px;top:704.40px;transform:translate(-50%,-50%);">1</span>
<span class="t" style="left:581.50px;top:704.40px;transform:translate(-50%,-50%);">1,23</span>
<span class="t" style="left:375.20px;top:723.00px;transform:translate(-50%,-50%);">05,03</span>
<span class="t" style="left:411.00px;top:723.00px;transform:translate(-50%,-50%);">6</span>
<span class="t" style="left:445.40px;top:723.00px;transform:translate(-50%,-50%);">0</span>
<span class="t" style="left:479.00px;top:723.00px;transform:translate(-50%,-50%);">0</span>
<span class="t" style="left:513.80px;top:723.00px;transform:translate(-50%,-50%);">6</span>
<span class="t" style="left:547.60px;top:723.00px;transform:translate(-50%,-50%);">1</span>
<span class="t" style="left:581.50px;top:723.00px;transform:translate(-50%,-50%);">1,12</span>
<span class="t" style="left:375.20px;top:743.20px;transform:translate(-50%,-50%);">평균</span>
<span class="t" style="left:411.00px;top:743.20px;transform:translate(-50%,-50%);">5,40</span>
<span class="t" style="left:445.40px;top:743.20px;transform:translate(-50%,-50%);">0,20</span>
<span class="t" style="left:479.00px;top:743.20px;transform:translate(-50%,-50%);">0,80</span>
<span class="t" style="left:513.80px;top:743.20px;transform:translate(-50%,-50%);">6,00</span>
<span class="t" style="left:547.60px;top:743.20px;transform:translate(-50%,-50%);">1,20</span>
<span class="t" style="left:581.50px;top:743.20px;transform:translate(-50%,-50%);">1,57</span>
<span class="t" style="left:615.80px;top:743.20px;transform:translate(-50%,-50%);">·</span>
<span class="vs" style="left:323.00px;top:86.40px;transform:translate(-50%,-50%);">VS</span>
<span class="vs" style="left:323.00px;top:292.30px;transform:translate(-50%,-50%);">VS</span>
<span class="vs" style="left:323.00px;top:499.10px;transform:translate(-50%,-50%);">VS</span>
<span class="vs" style="left:323.00px;top:676.50px;transform:translate(-50%,-50%);">VS</span>
<span class="wm wk" style="left:61.2px;top:101.0px;transform:translate(-50%,-50%) rotate(-32.5deg)">토토박사</span>
<span class="wm we" style="left:89.5px;top:103.7px;transform:translate(-50%,-50%) rotate(-32deg)">totobaksa.com</span>
<span class="wm wk" style="left:246.9px;top:101.0px;transform:translate(-50%,-50%) rotate(-32.5deg)">토토박사</span>
<span class="wm we" style="left:275.2px;top:103.7px;transform:translate(-50%,-50%) rotate(-32deg)">totobaksa.com</span>
<span class="wm wk" style="left:432.6px;top:101.0px;transform:translate(-50%,-50%) rotate(-32.5deg)">토토박사</span>
<span class="wm we" style="left:460.9px;top:103.7px;transform:translate(-50%,-50%) rotate(-32deg)">totobaksa.com</span>
<span class="wm wk" style="left:618.3px;top:101.0px;transform:translate(-50%,-50%) rotate(-32.5deg)">토토박사</span>
<span class="wm we" style="left:646.6px;top:103.7px;transform:translate(-50%,-50%) rotate(-32deg)">totobaksa.com</span>
<span class="wm wk" style="left:61.2px;top:288.5px;transform:translate(-50%,-50%) rotate(-32.5deg)">토토박사</span>
<span class="wm we" style="left:89.5px;top:290.0px;transform:translate(-50%,-50%) rotate(-32deg)">totobaksa.com</span>
<span class="wm wk" style="left:246.9px;top:288.5px;transform:translate(-50%,-50%) rotate(-32.5deg)">토토박사</span>
<span class="wm we" style="left:275.2px;top:290.0px;transform:translate(-50%,-50%) rotate(-32deg)">totobaksa.com</span>
<span class="wm wk" style="left:432.6px;top:288.5px;transform:translate(-50%,-50%) rotate(-32.5deg)">토토박사</span>
<span class="wm we" style="left:460.9px;top:290.0px;transform:translate(-50%,-50%) rotate(-32deg)">totobaksa.com</span>
<span class="wm wk" style="left:618.3px;top:288.5px;transform:translate(-50%,-50%) rotate(-32.5deg)">토토박사</span>
<span class="wm we" style="left:646.6px;top:290.0px;transform:translate(-50%,-50%) rotate(-32deg)">totobaksa.com</span>
<span class="wm wk" style="left:61.2px;top:473.6px;transform:translate(-50%,-50%) rotate(-32.5deg)">토토박사</span>
<span class="wm we" style="left:89.5px;top:476.3px;transform:translate(-50%,-50%) rotate(-32deg)">totobaksa.com</span>
<span class="wm wk" style="left:246.9px;top:473.6px;transform:translate(-50%,-50%) rotate(-32.5deg)">토토박사</span>
<span class="wm we" style="left:275.2px;top:476.3px;transform:translate(-50%,-50%) rotate(-32deg)">totobaksa.com</span>
<span class="wm wk" style="left:432.6px;top:473.6px;transform:translate(-50%,-50%) rotate(-32.5deg)">토토박사</span>
<span class="wm we" style="left:460.9px;top:476.3px;transform:translate(-50%,-50%) rotate(-32deg)">totobaksa.com</span>
<span class="wm wk" style="left:618.3px;top:473.6px;transform:translate(-50%,-50%) rotate(-32.5deg)">토토박사</span>
<span class="wm we" style="left:646.6px;top:476.3px;transform:translate(-50%,-50%) rotate(-32deg)">totobaksa.com</span>
<span class="wm wk" style="left:61.2px;top:659.9px;transform:translate(-50%,-50%) rotate(-32.5deg)">토토박사</span>
<span class="wm we" style="left:89.5px;top:662.6px;transform:translate(-50%,-50%) rotate(-32deg)">totobaksa.com</span>
<span class="wm wk" style="left:246.9px;top:659.9px;transform:translate(-50%,-50%) rotate(-32.5deg)">토토박사</span>
<span class="wm we" style="left:275.2px;top:662.6px;transform:translate(-50%,-50%) rotate(-32deg)">totobaksa.com</span>
<span class="wm wk" style="left:432.6px;top:659.9px;transform:translate(-50%,-50%) rotate(-32.5deg)">토토박사</span>
<span class="wm we" style="left:460.9px;top:662.6px;transform:translate(-50%,-50%) rotate(-32deg)">totobaksa.com</span>
<span class="wm wk" style="left:618.3px;top:659.9px;transform:translate(-50%,-50%) rotate(-32.5deg)">토토박사</span>
<span class="wm we" style="left:646.6px;top:662.6px;transform:translate(-50%,-50%) rotate(-32deg)">totobaksa.com</span>
</body></html>
